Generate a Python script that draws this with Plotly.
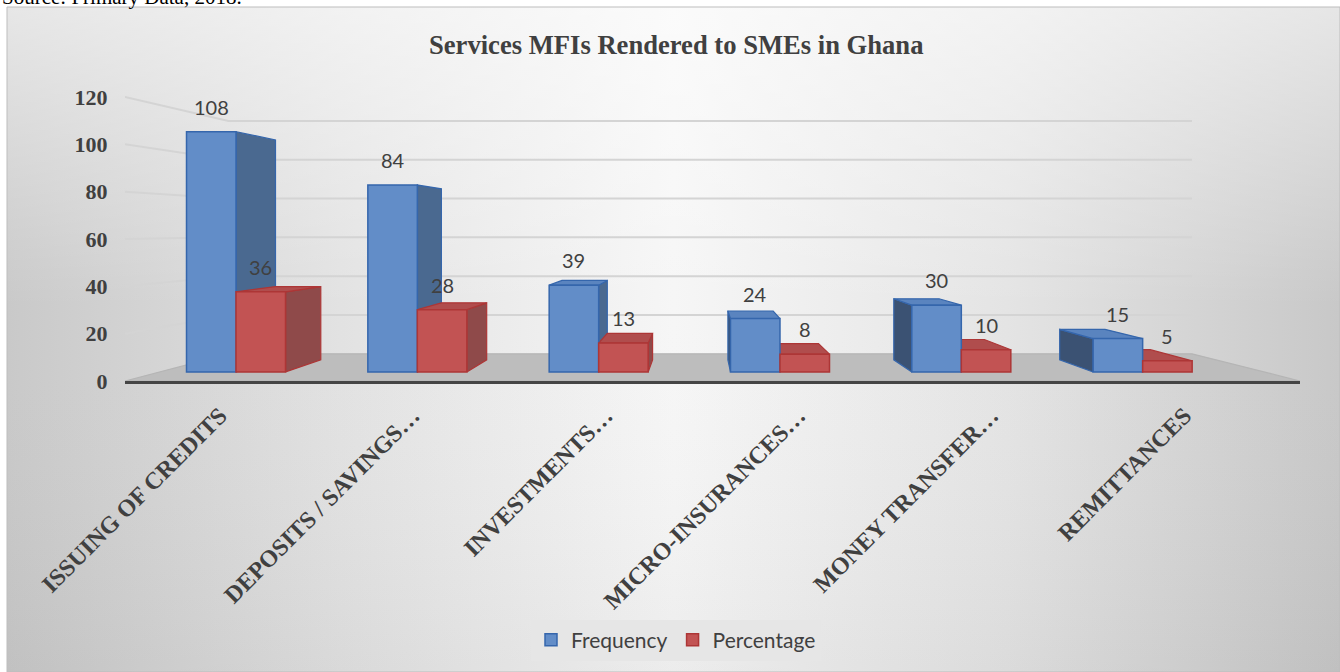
import plotly.graph_objects as go

# ---- data -------------------------------------------------------------
categories = ["ISSUING OF CREDITS", "DEPOSITS / SAVINGS…", "INVESTMENTS…",
              "MICRO-INSURANCES…", "MONEY TRANSFER…", "REMITTANCES"]
frequency = [108, 84, 39, 24, 30, 15]
percentage = [36, 28, 13, 8, 10, 5]
y_ticks = [0, 20, 40, 60, 80, 100, 120]

# ---- page / perspective geometry -------------------------------------
W, H = 1340, 672
PLOT_L, PLOT_R, PLOT_T, AXIS_Y = 125, 1300, 60, 381
CAT0_PX, CAT_STEP_PX = 206.4, 192.9       # first category and spacing on the front plane
PX_PER_UNIT = 2.367                        # value scale on the front plane
VANISH_PX = (700, 230)                     # vanishing point of the 3-D view
D_FRONT, D_BACK, D_WALL = 0.06, 0.14, 0.18 # depth of bar front, bar back, walls
BAR_W = 0.273
LABEL_SHIFT = 0.07                         # category labels sit at the middle of the floor

x_lo = (PLOT_L - CAT0_PX) / CAT_STEP_PX
x_hi = (PLOT_R - CAT0_PX) / CAT_STEP_PX
y_hi = (AXIS_Y - PLOT_T) / PX_PER_UNIT
vx = (VANISH_PX[0] - CAT0_PX) / CAT_STEP_PX
vy = (AXIS_Y - VANISH_PX[1]) / PX_PER_UNIT


def recede(x, y, d):
    """Push a front-plane point (x, y) back to depth d toward the vanishing point."""
    return x + d * (vx - x), y + d * (vy - y)


def poly(points, color, line_color):
    xs = [p[0] for p in points] + [points[0][0]]
    ys = [p[1] for p in points] + [points[0][1]]
    return go.Scatter(x=xs, y=ys, fill="toself", fillcolor=color, mode="lines",
                      line=dict(color=line_color, width=1.2), hoverinfo="skip",
                      showlegend=False, xaxis="x2", yaxis="y2")


BLUE = dict(front="#628dc8", right="#4a6990", left="#3b5273", top="#5a84bf", edge="#3566ac")
RED = dict(front="#c25353", right="#8f4a4a", left="#7d3e3e", top="#b04d4d", edge="#ad3636")

fig = go.Figure()

# ---- chart-area background (soft horizontal + vertical shading) -------
box_x = [7, W, W, 7, 7]
box_y = [7, 7, H, H, 7]
fig.add_trace(go.Scatter(
    x=box_x, y=box_y, fill="toself", mode="lines", line=dict(width=0),
    fillgradient=dict(type="horizontal", colorscale=[
        [0.0, "#c9c9c9"], [0.25, "#e2e2e2"], [0.5, "#f6f6f6"],
        [0.75, "#e4e4e4"], [1.0, "#c8c8c8"]]),
    hoverinfo="skip", showlegend=False, xaxis="x", yaxis="y"))
fig.add_trace(go.Scatter(
    x=box_x, y=box_y, fill="toself", mode="lines", line=dict(color="#bdbdbd", width=1),
    fillgradient=dict(type="vertical", start=7, stop=H, colorscale=[
        [0.0, "rgba(255,255,255,0.55)"], [0.45, "rgba(255,255,255,0)"],
        [1.0, "rgba(0,0,0,0.04)"]]),
    hoverinfo="skip", showlegend=False, xaxis="x", yaxis="y"))

# ---- walls: gridlines on the left and back walls ----------------------
gx, gy = [], []
for v in y_ticks[1:]:
    bl = recede(x_lo, v, D_WALL)
    br = recede(x_hi, v, D_WALL)
    gx += [x_lo, bl[0], br[0], None]
    gy += [v, bl[1], br[1], None]
fig.add_trace(go.Scatter(x=gx, y=gy, mode="lines", line=dict(color="#d4d4d4", width=2),
                         hoverinfo="skip", showlegend=False, xaxis="x2", yaxis="y2"))

# ---- floor ------------------------------------------------------------
floor = [(x_lo, 0), (x_hi, 0), recede(x_hi, 0, D_WALL), recede(x_lo, 0, D_WALL)]
fig.add_trace(poly(floor, "#bdbdbd", "#b5b5b5"))

# ---- bar sides and tops (fronts are real bar traces drawn on top) -----
for i in range(len(categories)):
    boxes = [(i - BAR_W, i, frequency[i], BLUE), (i, i + BAR_W, percentage[i], RED)]
    # paint the box farther from the viewer first
    boxes.sort(key=lambda b: -abs((b[0] + b[1]) / 2 - vx))
    for x0, x1, v, pal in boxes:
        if x1 <= vx:
            xs, col = x1, pal["right"]
        elif x0 >= vx:
            xs, col = x0, pal["left"]
        else:
            xs = None
        if xs is not None:
            side = [recede(xs, 0, D_FRONT), recede(xs, v, D_FRONT),
                    recede(xs, v, D_BACK), recede(xs, 0, D_BACK)]
            fig.add_trace(poly(side, col, pal["edge"]))
        if v < vy:
            top = [recede(x0, v, D_FRONT), recede(x1, v, D_FRONT),
                   recede(x1, v, D_BACK), recede(x0, v, D_BACK)]
            fig.add_trace(poly(top, pal["top"], pal["edge"]))

# ---- bar fronts on the front plane of the boxes -----------------------
xpos = list(range(len(categories)))
fig.add_trace(go.Bar(name="Frequency", x=xpos, y=frequency, width=BAR_W, offset=-BAR_W,
                     marker=dict(color=BLUE["front"], line=dict(color=BLUE["edge"], width=1.5)),
                     xaxis="x3", yaxis="y3", hoverinfo="skip"))
fig.add_trace(go.Bar(name="Percentage", x=xpos, y=percentage, width=BAR_W, offset=0,
                     marker=dict(color=RED["front"], line=dict(color=RED["edge"], width=1.5)),
                     xaxis="x3", yaxis="y3", hoverinfo="skip"))

annotations = []
label_font = dict(family="Lato", size=20, color="#404040")
for i in xpos:
    for xc, v in ((i - BAR_W / 2, frequency[i]), (i + BAR_W / 2, percentage[i])):
        annotations.append(dict(x=xc, y=v, xref="x3", yref="y3", text=str(v),
                                showarrow=False, yanchor="bottom", yshift=11,
                                font=label_font))

annotations.append(dict(x=676 / W, y=1 - 45 / H, xref="paper", yref="paper",
                        text="<b>Services MFIs Rendered to SMEs in Ghana</b>",
                        showarrow=False, xanchor="center", yanchor="middle",
                        font=dict(family="Liberation Serif", size=26.6, color="#404040")))
annotations.append(dict(x=0, y=1 - 11 / H, xref="paper", yref="paper",
                        text="Source: Primary Data, 2018.", showarrow=False,
                        xanchor="left", yanchor="bottom",
                        font=dict(family="Liberation Serif", size=21, color="#000000")))

serif_bold = dict(family="Liberation Serif", size=22, color="#404040", weight="bold")
front_xr = [(x_lo - D_FRONT * vx) / (1 - D_FRONT), (x_hi - D_FRONT * vx) / (1 - D_FRONT)]
front_yr = [(0 - D_FRONT * vy) / (1 - D_FRONT), (y_hi - D_FRONT * vy) / (1 - D_FRONT)]
dom_x = [PLOT_L / W, PLOT_R / W]
dom_y = [1 - AXIS_Y / H, 1 - PLOT_T / H]

fig.update_layout(
    width=W, height=H, margin=dict(l=0, r=0, t=0, b=0, autoexpand=False),
    paper_bgcolor="white", plot_bgcolor="rgba(0,0,0,0)",
    barmode="overlay",
    xaxis=dict(domain=[0, 1], range=[0, W], visible=False, fixedrange=True, automargin=False),
    yaxis=dict(domain=[0, 1], range=[H, 0], visible=False, fixedrange=True, automargin=False),
    xaxis2=dict(domain=dom_x, anchor="y2", range=[x_lo, x_hi],
                tickvals=[p + LABEL_SHIFT for p in xpos],
                ticktext=categories, tickangle=-45, automargin=False,
                tickfont=dict(family="Liberation Serif", size=24, color="#404040", weight="bold"),
                ticks="outside", ticklen=8, tickcolor="rgba(0,0,0,0)",
                showline=True, linecolor="#454545", linewidth=3,
                showgrid=False, zeroline=False, fixedrange=True),
    yaxis2=dict(domain=dom_y, anchor="x2", range=[0, y_hi], tickvals=y_ticks,
                tickfont=serif_bold, ticks="outside", ticklen=12, automargin=False,
                tickcolor="rgba(0,0,0,0)", showline=False, showgrid=False,
                zeroline=False, fixedrange=True),
    xaxis3=dict(overlaying="x2", anchor="y3", range=front_xr, visible=False,
                fixedrange=True, automargin=False),
    yaxis3=dict(overlaying="y2", anchor="x3", range=front_yr, visible=False,
                fixedrange=True, automargin=False),
    showlegend=True,
    legend=dict(orientation="h", x=676 / W, xanchor="center", y=1 - 640 / H,
                yanchor="middle", bgcolor="#e6e6e6", borderwidth=0,
                font=dict(family="Lato", size=21, color="#404040")),
    annotations=annotations,
)

fig.write_html("out.html")
